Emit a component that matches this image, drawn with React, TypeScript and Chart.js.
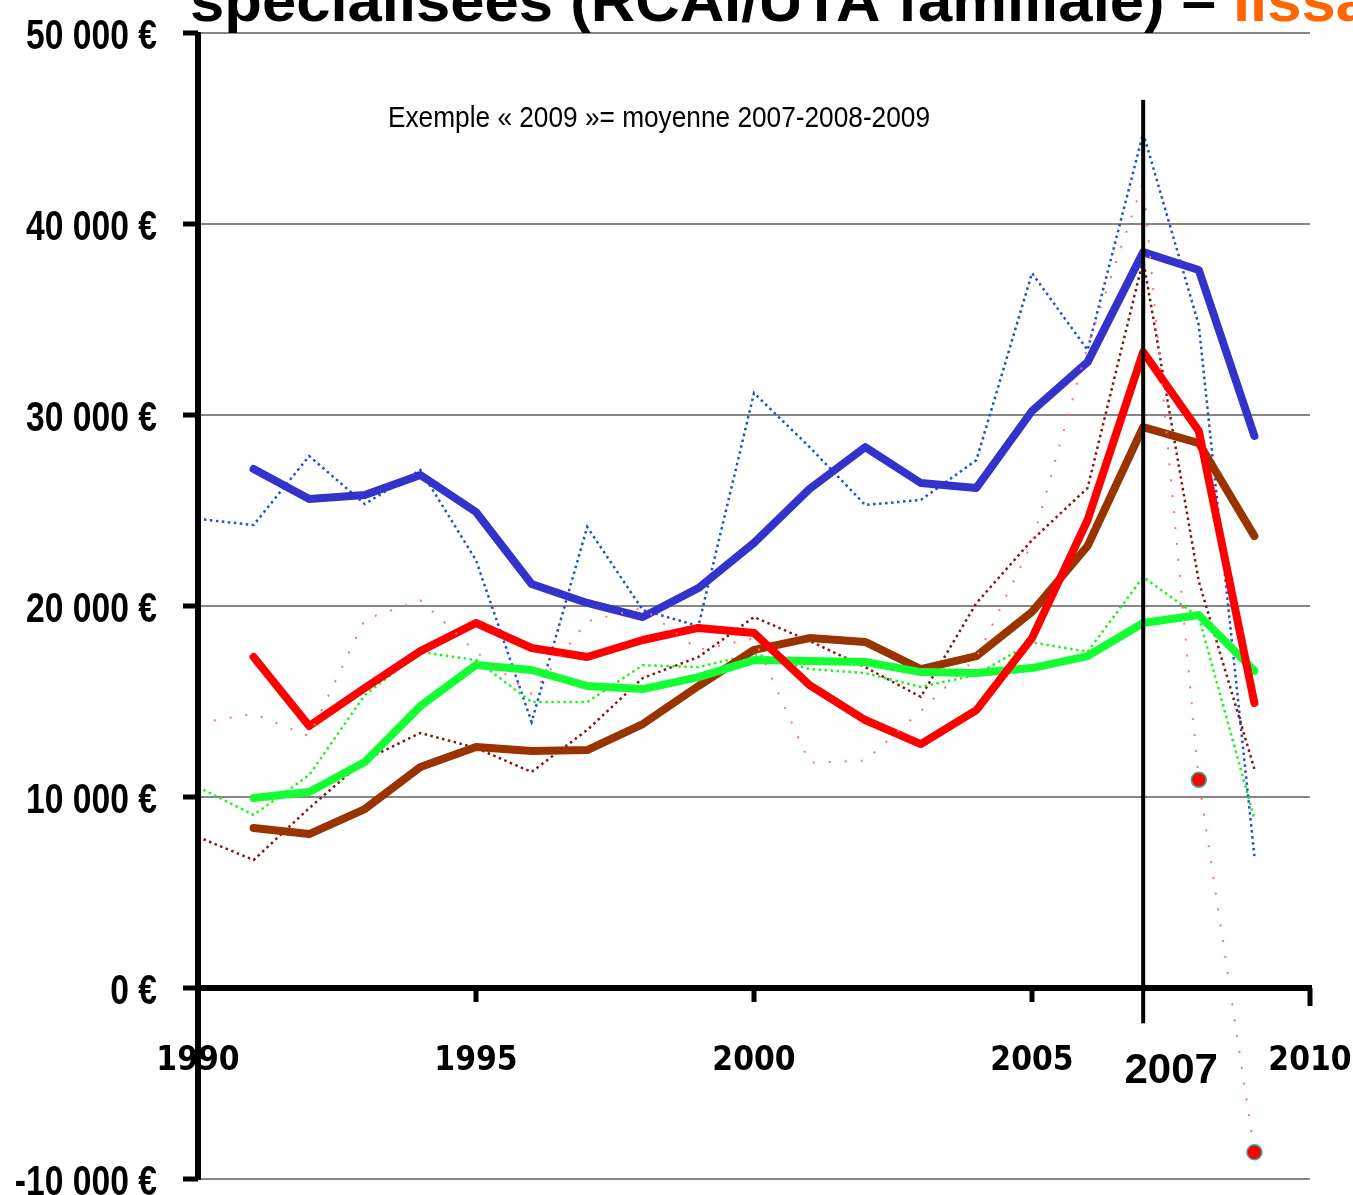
import React, { useEffect, useRef } from "react";
import { Chart, registerables } from "chart.js";

Chart.register(...registerables);

// ---------- data ----------
const rawYears = [1990, 1991, 1992, 1993, 1994, 1995, 1996, 1997, 1998, 1999, 2000, 2001, 2002, 2003, 2004, 2005, 2006, 2007, 2008, 2009];
const smoothYears = [1991, 1992, 1993, 1994, 1995, 1996, 1997, 1998, 1999, 2000, 2001, 2002, 2003, 2004, 2005, 2006, 2007, 2008, 2009];

const blueRaw = [24560, 24240, 27850, 25340, 27120, 22400, 13930, 24140, 19790, 18950, 31150, 28320, 25290, 25550, 27640, 37430, 33400, 44760, 34700, 6900];
const blueSmooth = [27170, 25600, 25810, 26860, 24920, 21150, 20160, 19420, 20940, 23300, 26130, 28320, 26440, 26180, 30210, 32770, 38530, 37590, 28900];

const redRaw = [13870, 14350, 13190, 19300, 20300, 17600, 15400, 19200, 19900, 17700, 18300, 11800, 11900, 14500, 17300, 23300, 33600, 42200, 10900, -8600];
const redSmooth = [17330, 13720, 15710, 17640, 19110, 17800, 17330, 18220, 18850, 18590, 15860, 14030, 12770, 14550, 18320, 24500, 33300, 29160, 14920];

const brownRaw = [7910, 6700, 9420, 11940, 13350, 12570, 11310, 13510, 16230, 17330, 19420, 18170, 16800, 15240, 20150, 23450, 26180, 38120, 21290, 11470];
const brownSmooth = [8380, 8060, 9370, 11570, 12620, 12410, 12460, 13820, 15810, 17700, 18320, 18120, 16700, 17380, 19690, 23140, 29370, 28530, 23660];

const greenRaw = [10520, 9060, 11150, 15340, 17590, 17170, 14970, 14970, 16900, 16800, 17500, 16700, 16490, 15760, 16400, 18100, 17600, 21520, 19420, 8850];
const greenSmooth = [9950, 10260, 11830, 14760, 16910, 16650, 15810, 15650, 16280, 17170, 17120, 17070, 16540, 16490, 16750, 17380, 19110, 19530, 16600];

const yTickValues = [-10000, 0, 10000, 20000, 30000, 40000, 50000];
const xTickValues = [1990, 1995, 2000, 2005, 2010];
const markerYear = 2007;
const markedRawYears = [2008, 2009];

const titleMain = "spécialisées (RCAI/UTA familiale) – ";
const titleAccent = "lissage";
const noteText = "Exemple « 2009 »= moyenne 2007-2008-2009";

// ---------- helpers ----------
const toPoints = (years: number[], vals: number[]) => years.map((x, i) => ({ x, y: vals[i] }));

function euro(v: number): string {
  const s = String(Math.abs(v)).replace(/\B(?=(\d{3})+(?!\d))/g, " ");
  return (v < 0 ? "-" : "") + s + " €";
}

function drawScaled(ctx: CanvasRenderingContext2D, text: string, x: number, y: number, font: string, sx: number, align: "left" | "center" | "right", color = "#000") {
  ctx.save();
  ctx.font = font;
  const w = ctx.measureText(text).width * sx;
  const left = align === "center" ? x - w / 2 : align === "right" ? x - w : x;
  ctx.translate(left, y);
  ctx.scale(sx, 1);
  ctx.textAlign = "left";
  ctx.textBaseline = "alphabetic";
  ctx.fillStyle = color;
  ctx.fillText(text, 0, 0);
  ctx.restore();
  return w;
}

const decorPlugin = {
  id: "decor",
  afterDatasetsDraw(chart: any) {
    const ctx: CanvasRenderingContext2D = chart.ctx;
    const xs = chart.scales.x;
    const ys = chart.scales.y;
    const ca = chart.chartArea;
    ctx.save();
    ctx.fillStyle = "#000";

    // vertical 2007 marker line
    const x07 = xs.getPixelForValue(markerYear);
    const yTop = ys.getPixelForValue(46500);
    const yBot = ys.getPixelForValue(-1850);
    ctx.fillRect(x07 - 2, yTop, 4, yBot - yTop);

    // zero axis
    const y0 = ys.getPixelForValue(0);
    ctx.fillRect(ca.left, y0 - 3, ca.right - ca.left + 2, 6);

    // y axis
    const xAxis = xs.getPixelForValue(1990);
    ctx.fillRect(xAxis - 3, ca.top - 1, 6, ca.bottom - ca.top + 2);

    // y ticks + labels
    const yFont = 'bold 43px "Liberation Sans"';
    ctx.font = yFont;
    const ySx = 131 / ctx.measureText(euro(40000)).width;
    yTickValues.forEach((v) => {
      const y = ys.getPixelForValue(v);
      ctx.fillStyle = "#000";
      ctx.fillRect(xAxis - 15, y - 2.5, 15, 5);
      drawScaled(ctx, euro(v), xAxis - 41, y + 15.5, yFont, ySx, "right");
    });

    // x ticks + labels
    xTickValues.forEach((v) => {
      const x = xs.getPixelForValue(v);
      if (v !== 1990) {
        ctx.fillStyle = "#000";
        ctx.fillRect(x - 2.5, y0, 5, v === 2010 ? 18 : 14);
      }
      drawScaled(ctx, String(v), x, y0 + 82, 'bold 34px "DejaVu Sans"', 0.88, "center");
    });

    // 2007 label
    drawScaled(ctx, String(markerYear), x07 + 28, y0 + 95, 'bold 42px "Liberation Sans"', 1, "center");

    // note
    const noteFont = '29.5px "Liberation Sans"';
    ctx.font = noteFont;
    const nSx = 542 / ctx.measureText(noteText).width;
    drawScaled(ctx, noteText, 388, 127, noteFont, nSx, "left");

    // title (cut by the top edge)
    const tFont = 'bold 60px "Liberation Sans"';
    ctx.font = tFont;
    const tSx = 1043 / ctx.measureText(titleMain).width;
    const w = drawScaled(ctx, titleMain, 190, 21, tFont, tSx, "left");
    drawScaled(ctx, titleAccent, 190 + w, 21, tFont, tSx, "left", "#FF6600");

    ctx.restore();
  },
};

export default function App() {
  const canvasRef = useRef<HTMLCanvasElement | null>(null);

  useEffect(() => {
    const canvas = canvasRef.current;
    if (!canvas) return;
    const dotted = (color: string, width: number, dash: number[]) => ({
      borderColor: color,
      borderWidth: width,
      borderDash: dash,
      pointRadius: 0,
      fill: false,
      tension: 0,
    });
    const thick = (color: string) => ({
      borderColor: color,
      borderWidth: 8,
      pointRadius: 0,
      fill: false,
      tension: 0,
      borderJoinStyle: "round" as const,
      borderCapStyle: "round" as const,
    });

    const chart = new Chart(canvas, {
      type: "line",
      data: {
        datasets: [
          { label: "Rouge (lissé)", data: toPoints(smoothYears, redSmooth), ...thick("#FF0000"), order: 0 },
          { label: "Vert (lissé)", data: toPoints(smoothYears, greenSmooth), ...thick("#14FF33"), order: 1 },
          { label: "Marron (lissé)", data: toPoints(smoothYears, brownSmooth), ...thick("#993300"), order: 2 },
          { label: "Bleu (lissé)", data: toPoints(smoothYears, blueSmooth), ...thick("#3333CC"), order: 3 },
          {
            label: "Rouge",
            data: toPoints(rawYears, redRaw),
            ...dotted("#FF7070", 2, [2, 14]),
            pointRadius: (c: any) => (markedRawYears.includes(rawYears[c.dataIndex]) ? 7.5 : 0),
            pointBackgroundColor: "#FF0000",
            pointBorderColor: "#2DB39E",
            pointBorderWidth: 1.5,
            order: -1,
          },
          { label: "Vert", data: toPoints(rawYears, greenRaw), ...dotted("#22F022", 2.5, [2.5, 3.5]), order: 5 },
          { label: "Marron", data: toPoints(rawYears, brownRaw), ...dotted("#841515", 2.5, [2.5, 3.5]), order: 6 },
          { label: "Bleu", data: toPoints(rawYears, blueRaw), ...dotted("#1F4FD6", 2.5, [2.5, 3.5]), order: 7 },
        ] as any,
      },
      options: {
        animation: false,
        responsive: false,
        devicePixelRatio: 1,
        layout: { padding: { left: 198, right: 43, top: 33, bottom: 16 } },
        plugins: {
          legend: { display: false },
          tooltip: { enabled: false },
          title: { display: false },
        },
        scales: {
          x: { type: "linear", min: 1990, max: 2010, display: false },
          y: {
            type: "linear",
            min: -10000,
            max: 50000,
            ticks: { display: false, stepSize: 10000 },
            border: { display: false },
            grid: {
              drawTicks: false,
              color: (c: any) => (c.tick && c.tick.value === 0 ? "rgba(0,0,0,0)" : "#868686"),
              lineWidth: 2,
            },
          },
        },
      } as any,
      plugins: [decorPlugin],
    });
    return () => chart.destroy();
  }, []);

  return (
    <div style={{ position: "absolute", left: 0, top: 0, width: 1353, height: 1195, overflow: "hidden", background: "#fff" }}>
      <canvas ref={canvasRef} width={1353} height={1195} style={{ display: "block", width: 1353, height: 1195 }} />
    </div>
  );
}
